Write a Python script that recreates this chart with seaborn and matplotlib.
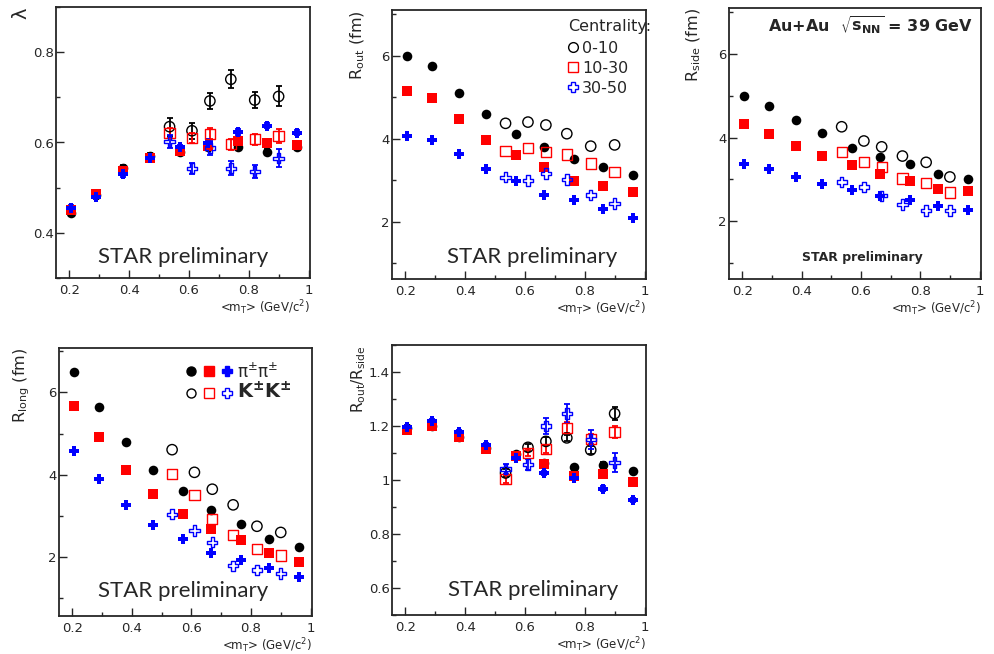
import matplotlib
matplotlib.use('Agg')
import matplotlib.pyplot as plt
import matplotlib.ticker as mticker
from matplotlib.lines import Line2D
from matplotlib.legend_handler import HandlerTuple
import seaborn as sns

# <mT> bins (GeV/c^2)
mt_pi = [0.205, 0.29, 0.38, 0.47, 0.57, 0.665, 0.765, 0.86, 0.96]
mt_k = [0.535, 0.61, 0.67, 0.74, 0.82, 0.90]
centralities = ['0-10', '10-30', '30-50']

# rows: 0-10, 10-30, 30-50
lam_pi = [[0.444, 0.484, 0.544, 0.570, 0.578, 0.590, 0.590, 0.580, 0.590],
          [0.450, 0.485, 0.537, 0.565, 0.582, 0.592, 0.603, 0.598, 0.594],
          [0.455, 0.480, 0.530, 0.565, 0.589, 0.600, 0.623, 0.637, 0.622]]
lam_pi_err = [[0.006] * 9, [0.006] * 9, [0.006] * 9]
lam_k = [[0.635, 0.626, 0.692, 0.740, 0.694, 0.702],
         [0.621, 0.610, 0.619, 0.596, 0.607, 0.614],
         [0.602, 0.543, 0.588, 0.543, 0.536, 0.565]]
lam_k_err = [[0.020, 0.018, 0.018, 0.020, 0.018, 0.022],
             [0.012, 0.012, 0.012, 0.012, 0.012, 0.015],
             [0.015, 0.012, 0.015, 0.015, 0.015, 0.020]]

rout_pi = [[5.99, 5.74, 5.11, 4.59, 4.12, 3.80, 3.50, 3.32, 3.12],
           [5.15, 4.97, 4.47, 3.98, 3.61, 3.32, 2.99, 2.87, 2.71],
           [4.06, 3.98, 3.62, 3.28, 2.98, 2.64, 2.52, 2.31, 2.09]]
rout_k = [[4.37, 4.40, 4.33, 4.12, 3.82, 3.85],
          [3.70, 3.78, 3.68, 3.62, 3.40, 3.20],
          [3.07, 2.99, 3.16, 3.02, 2.64, 2.44]]

rside_pi = [[5.00, 4.75, 4.41, 4.10, 3.76, 3.54, 3.36, 3.13, 3.01],
            [4.33, 4.09, 3.81, 3.57, 3.34, 3.12, 2.97, 2.78, 2.72],
            [3.38, 3.25, 3.06, 2.90, 2.76, 2.60, 2.50, 2.36, 2.27]]
rside_k = [[4.26, 3.92, 3.78, 3.56, 3.41, 3.06],
           [3.65, 3.41, 3.30, 3.02, 2.92, 2.69],
           [2.94, 2.82, 2.61, 2.40, 2.26, 2.26]]

rlong_pi = [[6.49, 5.64, 4.79, 4.12, 3.60, 3.15, 2.80, 2.45, 2.24],
            [5.68, 4.91, 4.12, 3.54, 3.05, 2.68, 2.42, 2.11, 1.88],
            [4.59, 3.90, 3.27, 2.79, 2.44, 2.10, 1.92, 1.73, 1.51]]
rlong_k = [[4.61, 4.06, 3.65, 3.27, 2.75, 2.60],
           [4.02, 3.51, 2.92, 2.54, 2.19, 2.04],
           [3.04, 2.65, 2.36, 1.79, 1.69, 1.60]]

ratio_pi = [[1.193, 1.200, 1.159, 1.120, 1.096, 1.063, 1.047, 1.057, 1.032],
            [1.185, 1.200, 1.160, 1.115, 1.088, 1.059, 1.014, 1.022, 0.991],
            [1.196, 1.217, 1.178, 1.130, 1.081, 1.026, 1.007, 0.968, 0.927]]
ratio_pi_err = [[0.008] * 9, [0.008] * 9, [0.008] * 9]
ratio_k = [[1.026, 1.121, 1.143, 1.156, 1.111, 1.246],
           [1.004, 1.100, 1.116, 1.193, 1.152, 1.178],
           [1.041, 1.057, 1.200, 1.246, 1.150, 1.065]]
ratio_k_err = [[0.015, 0.012, 0.015, 0.012, 0.015, 0.025],
               [0.015, 0.012, 0.015, 0.020, 0.020, 0.022],
               [0.020, 0.020, 0.030, 0.035, 0.035, 0.035]]

colors = ['black', 'red', 'blue']
markers = ['o', 's', 'P']

sns.set_style('ticks')
plt.rcParams['font.family'] = ['DejaVu Sans']
plt.rcParams['mathtext.default'] = 'regular'

W, H = 994, 654
fig = plt.figure(figsize=(W / 100, H / 100), dpi=100)


def panel(l, t, r, b):
    return fig.add_axes([l / W, 1 - b / H, (r - l) / W, (b - t) / H])


def draw(ax, pi_vals, k_vals, pi_err=None, k_err=None):
    for i, c in enumerate(colors):
        if pi_err is not None:
            ax.errorbar(mt_pi, pi_vals[i], yerr=pi_err[i], fmt='none',
                        ecolor=c, elinewidth=1.3, capsize=2, capthick=1.3)
        sns.scatterplot(x=mt_pi, y=pi_vals[i], marker=markers[i], color=c,
                        s=48, linewidth=0, ax=ax, zorder=3)
    for i, c in enumerate(colors):
        if k_err is not None:
            ax.errorbar(mt_k, k_vals[i], yerr=k_err[i], fmt='none',
                        ecolor=c, elinewidth=1.3, capsize=2, capthick=1.3)
        sns.scatterplot(x=mt_k, y=k_vals[i], marker=markers[i], color=c,
                        facecolor='none', edgecolor=c, s=55, linewidth=1.0,
                        ax=ax, zorder=4)


def style(ax, ylim, major, minor, ylabel, labx):
    ax.set_xlim(0.155, 1.005)
    ax.set_ylim(*ylim)
    ax.xaxis.set_major_locator(mticker.MultipleLocator(0.2))
    ax.xaxis.set_minor_locator(mticker.MultipleLocator(0.1))
    ax.xaxis.set_major_formatter(mticker.FuncFormatter(lambda v, p: f'{v:g}'))
    ax.yaxis.set_major_locator(mticker.MultipleLocator(major))
    ax.yaxis.set_minor_locator(mticker.MultipleLocator(minor))
    ax.yaxis.set_major_formatter(mticker.FuncFormatter(lambda v, p: f'{v:g}'))
    ax.tick_params(which='both', direction='in', labelsize=9.5, width=1.0)
    ax.tick_params(axis='x', which='major', length=6, pad=4)
    ax.tick_params(axis='x', which='minor', length=3)
    ax.tick_params(axis='y', which='major', length=6, pad=1.5)
    ax.tick_params(axis='y', which='minor', length=3)
    for sp in ax.spines.values():
        sp.set_linewidth(1.3)
    ax.set_xlabel(r'<m$_T$> (GeV/c$^2$)', fontsize=8.5, loc='right', labelpad=1)
    ax.set_ylabel(ylabel, fontsize=11.5, loc='top')
    ax.yaxis.set_label_coords(labx, 1.0)


star_kw = dict(family='Lato', fontsize=16, ha='center', va='center')

# lambda
ax1 = panel(56, 7, 310, 278)
draw(ax1, lam_pi, lam_k, lam_pi_err, lam_k_err)
style(ax1, (0.3, 0.9), 0.2, 0.1, 'λ', -0.10)
ax1.yaxis.label.set_fontsize(14)
ax1.text(0.5, 0.078, 'STAR preliminary', transform=ax1.transAxes, **star_kw)

# R_out
ax2 = panel(392, 10, 646, 279)
draw(ax2, rout_pi, rout_k)
style(ax2, (0.62, 7.1), 2, 1, r'R$_{out}$ (fm)', -0.10)
ax2.text(0.55, 0.08, 'STAR preliminary', transform=ax2.transAxes, **star_kw)
handles = [Line2D([], [], ls='none', marker=m, mfc='none', mec=c, mew=1.0, ms=7)
           for m, c in zip(markers, colors)]
leg = ax2.legend(handles, centralities, title='Centrality:', loc='upper left',
                 bbox_to_anchor=(0.67, 0.99), frameon=False, fontsize=11.5,
                 title_fontsize=11.5, handlelength=0.6, handletextpad=0.25,
                 labelspacing=0.3, borderaxespad=0.2, borderpad=0.2,
                 alignment='left')
leg._legend_box.sep = 5
for t in [leg.get_title()] + leg.get_texts():
    t.set_clip_on(False)

# R_side
ax3 = panel(729, 8, 981, 279)
draw(ax3, rside_pi, rside_k)
style(ax3, (0.62, 7.1), 2, 1, r'R$_{side}$ (fm)', -0.103)
ax3.text(0.53, 0.08, 'STAR preliminary', transform=ax3.transAxes,
         fontsize=9, fontweight='bold', ha='center', va='center')
ax3.text(0.56, 0.935, r'Au+Au  $\sqrt{s_{NN}}$ = 39 GeV', transform=ax3.transAxes,
         fontsize=11.5, fontweight='bold', ha='center', va='center')

# R_long
ax4 = panel(59, 348, 312, 616)
draw(ax4, rlong_pi, rlong_k)
style(ax4, (0.57, 7.08), 2, 1, r'R$_{long}$ (fm)', -0.107)
ax4.text(0.49, 0.094, 'STAR preliminary', transform=ax4.transAxes, **star_kw)
pi_h = tuple(Line2D([], [], ls='none', marker=m, color=c, ms=6.5)
             for m, c in zip(markers, colors))
k_h = tuple(Line2D([], [], ls='none', marker=m, mfc='none', mec=c, mew=1.0, ms=6.5)
            for m, c in zip(markers, colors))
leg4 = ax4.legend([pi_h, k_h], [r'$\pi^{\pm}\pi^{\pm}$', r'K$^{\pm}$K$^{\pm}$'],
                  handler_map={tuple: HandlerTuple(ndivide=None, pad=0.5)},
                  loc='upper left', bbox_to_anchor=(0.465, 0.985), frameon=False,
                  fontsize=12, handlelength=2.7, handletextpad=0.3,
                  labelspacing=0.0, borderaxespad=0.2)
leg4.get_texts()[1].set_fontweight('bold')
leg4.get_texts()[1].set_fontsize(14)

# R_out / R_side
ax5 = panel(392, 345, 646, 615)
draw(ax5, ratio_pi, ratio_k, ratio_pi_err, ratio_k_err)
style(ax5, (0.5, 1.5), 0.2, 0.1, r'R$_{out}$/R$_{side}$', -0.095)
ax5.yaxis.label.set_fontsize(11)
ax5.text(0.555, 0.093, 'STAR preliminary', transform=ax5.transAxes, **star_kw)

plt.savefig('out.png', dpi=100)
